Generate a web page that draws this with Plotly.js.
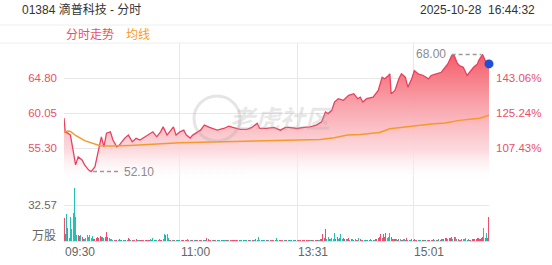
<!DOCTYPE html>
<html>
<head>
<meta charset="utf-8">
<script src="https://cdn.plot.ly/plotly-3.0.1.min.js"></script>
<style>
html,body{margin:0;padding:0;background:#fff;}
#chart{width:552px;height:265px;}
</style>
</head>
<body>
<div id="chart"></div>
<script>
// ---- data ----
const prevClose = 26.66;
const priceTicks = [64.80, 60.05, 55.30];
const volTicks = [32.57];
const timeTicks = [0, 90, 181, 271];
const timeLabels = ['09:30', '11:00', '13:31', '15:01'];
const sessionEnd = 330;

const priceT = [0,1,3,5,7,9,11,14,16,19,21,24,26,29,31,33,36,38,41,43,47,50,53,56,59,63,67,69,72,75,77,80,82,85,87,90,93,95,98,100,106,109,113,119,124,128,131,137,142,146,150,152,157,163,168,172,175,181,186,191,196,200,203,205,208,210,213,217,221,225,228,230,232,235,240,244,247,249,252,253,254,257,260,262,265,267,270,272,275,279,283,285,289,293,296,298,301,303,305,307,310,313,315,318,321,322,325,327,329,330];
const priceV = [59.38,57.45,57.32,57.05,55.03,53.01,54.09,53.68,53.01,52.33,52.10,52.74,54.36,56.82,55.47,57.32,57.50,56.38,55.47,55.70,56.61,57.05,56.15,56.61,56.38,56.82,57.28,57.50,56.82,57.50,58.17,57.05,57.50,58.17,57.05,57.50,57.72,57.05,56.65,57.05,57.72,58.40,58.09,57.72,57.95,58.26,58.09,57.82,57.82,58.09,58.67,57.95,57.95,58.09,57.72,58.09,58.09,57.95,58.09,58.17,58.40,58.84,60.19,59.97,60.42,61.54,61.99,61.77,62.44,62.67,61.99,62.21,61.54,61.99,62.21,63.12,64.91,64.69,65.14,65.37,62.67,63.12,64.69,65.37,64.91,63.56,64.69,65.81,65.37,65.14,64.69,65.14,65.37,65.58,66.26,66.71,67.83,67.85,66.93,66.48,66.26,65.14,65.58,66.26,66.71,67.16,68.00,67.16,66.93,66.71];

const avgT = [0,3,5,9,16,28,36,51,90,152,199,210,220,230,245,253,262,272,285,296,307,315,323,330];
const avgV = [57.45,57.60,57.55,57.00,56.30,55.60,55.57,55.65,56.00,56.24,56.47,56.70,57.05,57.14,57.40,57.90,58.10,58.30,58.55,58.70,59.05,59.20,59.34,59.75];

// volume per minute (万股), minute 0..330
const volume = [
20.5,6,24.5,12,3,22,11,25,47.7,22,
5,5,4.5,5,4,2,1.5,3,5.5,4,
5.5,3,4.5,2,2,3,4,3,4.5,3.5,
4,3,4,8.5,4,3,2,1.5,1,1.2,
1,0.8,1,1.5,1,0.8,1,1.2,1,1.3,
2.5,1.5,1,0.8,1.2,1,1.4,0.8,1,1.2,
0.8,1,1.3,1,0.9,1,1.2,1.5,1,3,
1,1.2,0.8,1,1.5,1,1.2,2,6.3,5,
6,3,1,1.2,0.8,1,1.3,0.9,1,1.1,
0.8,1,1.2,0.9,1,0.8,1.4,1,0.8,1,
1.2,0.9,1,0.8,1.1,1,1.3,0.9,1,1.2,
1,2.4,1.5,0.8,1,0.9,1,1.2,0.8,1,
0.9,1,1.3,0.8,1,1.1,0.9,1,1.2,0.8,
1,0.9,1.1,0.8,1,1.2,0.9,1,0.8,1,
1.1,0.9,1,0.8,1.2,0.9,1,1.3,1,1.5,
1.2,3.9,1,0.8,1,0.9,1,0.8,1.1,0.9,
1,0.8,1,1.2,0.9,2.4,1,0.8,1,0.7,
0.8,0.6,0.7,0.9,0.6,0.8,0.7,0.6,0.8,0.7,
0.6,0.8,0.7,0.6,0.8,0.7,0.9,0.6,0.8,0.7,
0.8,0.6,0.9,0.7,0.8,1,0.8,1.2,1,1.5,
2,6,3,10.8,2,4,2,1.5,3,2,
7.6,2,4,2,3,6,2,3,1.5,2,
1.5,2.5,1.2,2,1.5,1,1.8,1.2,1,2.5,
1.5,1,1.2,0.8,1,1.2,0.8,1,1.5,1,
1.2,1,2,1.5,3,4,6,3,6.5,4,
7,3,4,7,4,2,1.5,2,1.5,1.2,
2,1.5,1,1.2,1.5,1,2.5,1,1.2,0.8,
1.5,1,2,0.8,1,0.9,0.8,0.7,0.8,0.9,
0.7,0.8,1,0.8,1,1.2,0.8,1.5,1,1.2,
1,1.5,1.2,2,1.5,2,2.5,3,2,3,
2.5,3.5,2,4,3.5,2,1.5,1.2,1,1.5,
2,1.5,2.5,1,1.5,1.2,1,1.5,2,1.5,
2,2.5,3,2,2.5,4,12,3,7.6,3,
22];
const volDir =
"rrgrgggggg"+"grrgrrgggg"+"gggrrrrrrr"+"ggrrrggggr"+"grgrgrrgrg"+
"rrgrgrrggr"+"grgrrgrgrg"+"grgrgrrggr"+"ggrrgrrgrg"+"rgrrgrgrgr"+
"rgrrgrrgrg"+"rrrgrgrrgr"+"grrgrgrrgr"+"grrgrgrgrr"+"grgrrgrrgr"+
"rggrgrgrrg"+"rgrgrggrrg"+"rgrrgrgrrg"+"rgrgrrgrrg"+"rgrrgrrrgr"+
"rrrrggrggg"+"grrgrggrrg"+"rrgrgrgrgg"+"rgrgrgrrgr"+"rgrrrrrrrr"+
"rgggrrgrgr"+"rgrrgrrgrg"+"rrrgrgrgrr"+"grgrrgrrgr"+"rgrrgrrrgr"+
"rrgrggrgrg"+"gggrgrrrrr"+"rrrrrrgrgr"+"r";

// ---- styling ----
const RED = '#e8415f';
const UP = '#ee4d6b';
const DOWN = '#22c1b3';
const AVG = '#f59a2a';
const GRID = '#e8e8e8';
const FONT = 'Arial, "Liberation Sans", "Noto Sans CJK SC", sans-serif';

const W = 552, H = 265;
const M = {l: 64, r: 63, t: 43, b: 24};
const plotW = W - M.l - M.r, plotH = H - M.t - M.b;
const priceBottomPx = 183;
const splitFrac = (H - M.b - priceBottomPx) / plotH;
const priceRange = [50.55, 69.55];
const volRange = [0, volTicks[0] * (H - M.b - priceBottomPx) / 36];
const pct = p => (p / prevClose - 1) * 100;
const pxX = px => (px - M.l) / plotW;
const pxY = py => (H - M.b - py) / plotH;

const minuteIdx = volume.map((_, i) => i);
const volColors = volume.map((_, i) => volDir[i] === 'g' ? DOWN : UP);

// extremes
let iMin = 0, iMax = 0;
priceV.forEach((v, i) => { if (v < priceV[iMin]) iMin = i; if (v > priceV[iMax]) iMax = i; });
const tMin = priceT[iMin], pMin = priceV[iMin];
const tMax = priceT[iMax], pMax = priceV[iMax];
const lastT = priceT[priceT.length - 1], lastP = priceV[priceV.length - 1];

const traces = [
  {
    x: priceT, y: priceV, xaxis: 'x', yaxis: 'y', type: 'scatter', mode: 'lines',
    line: {color: RED, width: 1.3},
    fill: 'tozeroy',
    fillgradient: {
      type: 'vertical', start: priceRange[0], stop: pMax,
      colorscale: [[0, 'rgba(255,255,255,0)'], [0.25, 'rgba(252,215,219,0.9)'], [0.6, 'rgba(249,160,168,0.95)'], [1, 'rgba(244,92,104,1)']]
    },
    hoverinfo: 'skip'
  },
  {
    x: avgT, y: avgV, xaxis: 'x', yaxis: 'y', type: 'scatter', mode: 'lines',
    line: {color: AVG, width: 1.5}, hoverinfo: 'skip'
  },
  {
    x: [lastT], y: [lastP], xaxis: 'x', yaxis: 'y', type: 'scatter', mode: 'markers',
    marker: {color: '#1f4fd6', size: 9}, hoverinfo: 'skip', cliponaxis: false
  },
  {
    x: priceT, y: priceV.map(pct), xaxis: 'x', yaxis: 'y3', type: 'scatter', mode: 'lines',
    line: {width: 0}, opacity: 0, hoverinfo: 'skip'
  },
  {
    x: minuteIdx, y: volume, xaxis: 'x2', yaxis: 'y2', type: 'bar',
    marker: {color: volColors, line: {width: 0}}, width: 0.8, hoverinfo: 'skip'
  }
];

const gridTicks = timeTicks.concat([sessionEnd]);
const shapes = [
  // header band lines
  {type: 'line', xref: 'paper', yref: 'paper', x0: pxX(0), x1: pxX(W), y0: pxY(25), y1: pxY(25), line: {color: '#eeeeee', width: 1}},
  {type: 'line', xref: 'paper', yref: 'paper', x0: pxX(0), x1: pxX(W), y0: 1, y1: 1, line: {color: '#eeeeee', width: 1}},
  // min marker dash
  {type: 'line', xref: 'x', yref: 'y', x0: tMin + 1.5, x1: tMin + 21, y0: pMin, y1: pMin, line: {color: '#9a9a9a', width: 1.5, dash: '4px,3px'}},
  // max marker dash
  {type: 'line', xref: 'x', yref: 'y', x0: tMax - 24, x1: tMax - 1, y0: pMax, y1: pMax, line: {color: '#9a9a9a', width: 1.5, dash: '4px,3px'}},
  // watermark circle
  {type: 'circle', xref: 'paper', yref: 'paper', x0: pxX(194), x1: pxX(240), y0: pxY(141), y1: pxY(96), line: {color: 'rgba(170,170,170,0.3)', width: 3}}
];

const annotations = [
  {xref: 'paper', yref: 'paper', x: pxX(20), y: pxY(9.5), xanchor: 'left', yanchor: 'middle', showarrow: false,
   text: '01384 滴普科技 - 分时', font: {size: 12, color: '#333', family: FONT}},
  {xref: 'paper', yref: 'paper', x: pxX(537), y: pxY(9.5), xanchor: 'right', yanchor: 'middle', showarrow: false,
   text: '2025-10-28\u00a0\u00a016:44:32', font: {size: 12, color: '#333', family: FONT}},
  {xref: 'paper', yref: 'paper', x: pxX(64), y: pxY(35), xanchor: 'left', yanchor: 'middle', showarrow: false,
   text: '分时走势', font: {size: 12, color: '#e8506a', family: FONT}},
  {xref: 'paper', yref: 'paper', x: pxX(124), y: pxY(35), xanchor: 'left', yanchor: 'middle', showarrow: false,
   text: '均线', font: {size: 12, color: AVG, family: FONT}},
  {xref: 'paper', yref: 'paper', x: pxX(58), y: pxY(236), xanchor: 'right', yanchor: 'middle', showarrow: false,
   text: '万股', font: {size: 12, color: '#666', family: FONT}},
  {xref: 'x', yref: 'y', x: tMin + 24, y: pMin, xanchor: 'left', yanchor: 'middle', showarrow: false,
   text: pMin.toFixed(2), font: {size: 12, color: '#8c8c8c', family: FONT}},
  {xref: 'x', yref: 'y', x: tMax - 27, y: pMax, xanchor: 'right', yanchor: 'middle', showarrow: false,
   text: pMax.toFixed(2), font: {size: 12, color: '#8c8c8c', family: FONT}},
  {xref: 'paper', yref: 'paper', x: pxX(282), y: pxY(119), xanchor: 'center', yanchor: 'middle', showarrow: false,
   text: '<b><i>老虎社区</i></b>', font: {size: 25, color: 'rgba(170,170,170,0.28)', family: FONT}}
].concat(timeTicks.map((t, i) => ({
  xref: 'x', yref: 'paper', x: t, y: pxY(252), xanchor: 'left', yanchor: 'middle', showarrow: false,
  text: timeLabels[i], font: {size: 12, color: '#666', family: FONT}, xshift: -1
})));

const layout = {
  width: W, height: H,
  margin: M,
  paper_bgcolor: '#ffffff', plot_bgcolor: 'rgba(0,0,0,0)',
  showlegend: false,
  font: {family: FONT, size: 12},
  bargap: 0,
  xaxis: {domain: [0, 1], range: [0, sessionEnd], anchor: 'y', tickvals: gridTicks, showticklabels: false,
          showgrid: true, gridcolor: GRID, gridwidth: 1, zeroline: false, ticks: '', fixedrange: true},
  xaxis2: {domain: [0, 1], range: [0, sessionEnd], anchor: 'y2', matches: 'x', tickvals: gridTicks, showticklabels: false,
           showgrid: true, gridcolor: GRID, gridwidth: 1, zeroline: false, ticks: ''},
  yaxis: {domain: [splitFrac, 1], range: priceRange, tickvals: priceTicks, ticktext: priceTicks.map(v => v.toFixed(2)),
          tickfont: {size: 11.5, color: '#e8506a', family: FONT}, showgrid: true, gridcolor: GRID, zeroline: false,
          ticks: '', ticklabelstandoff: 6},
  yaxis3: {overlaying: 'y', side: 'right', anchor: 'x', range: priceRange.map(pct), tickvals: priceTicks.map(pct),
           ticktext: priceTicks.map(v => pct(v).toFixed(2) + '%'),
           tickfont: {size: 11.5, color: '#e8506a', family: FONT}, showgrid: false, zeroline: false, ticks: '',
           ticklabelstandoff: 6},
  yaxis2: {domain: [0, splitFrac], range: volRange, anchor: 'x2', tickvals: volTicks, ticktext: volTicks.map(v => v.toFixed(2)),
           tickfont: {size: 11.5, color: '#666', family: FONT}, showgrid: true, gridcolor: GRID, zeroline: true,
           zerolinecolor: '#e0e0e0', zerolinewidth: 1, ticks: '', ticklabelstandoff: 6},
  shapes: shapes,
  annotations: annotations
};

Plotly.newPlot('chart', traces, layout, {staticPlot: true, displayModeBar: false});
</script>
</body>
</html>
